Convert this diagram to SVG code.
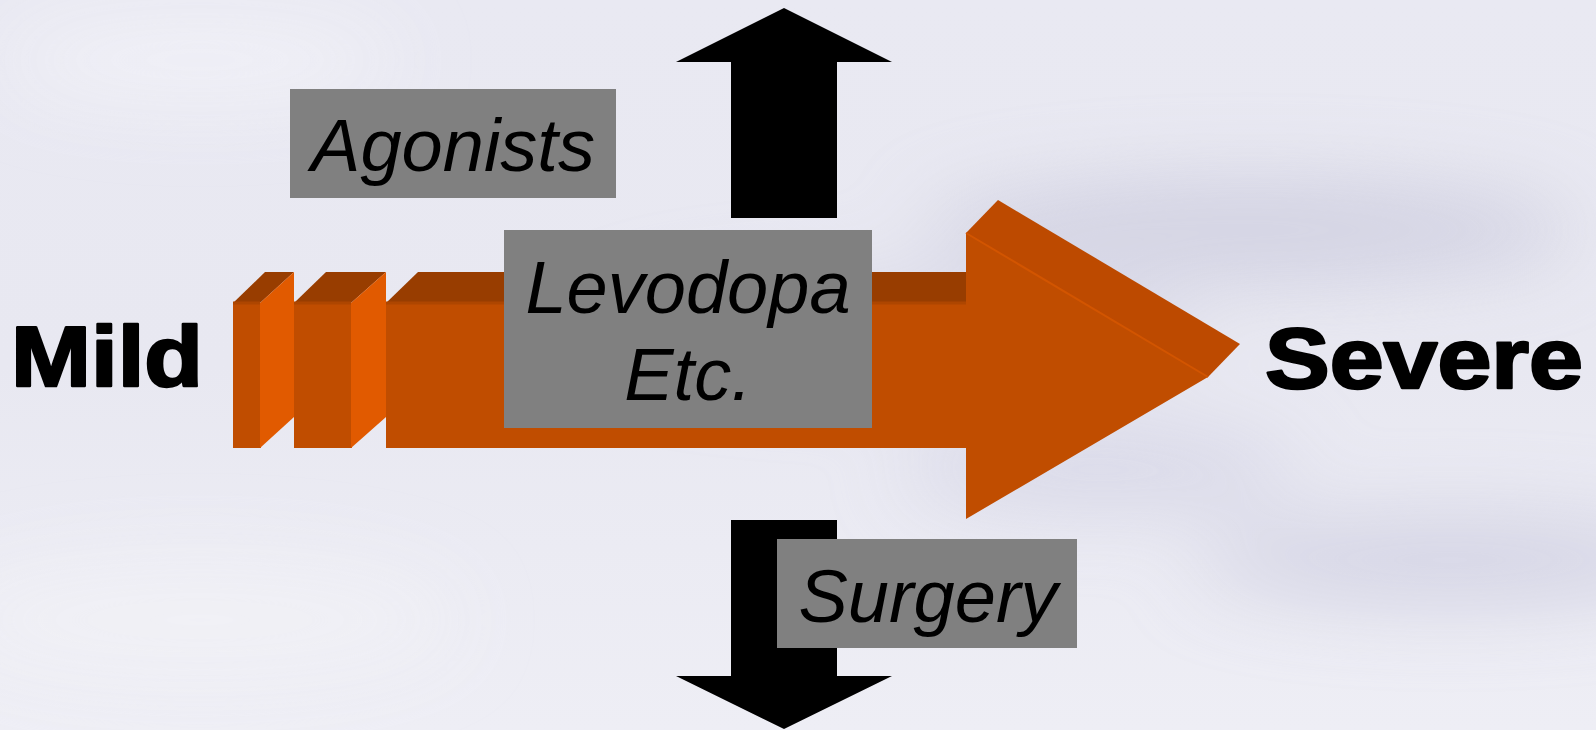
<svg xmlns="http://www.w3.org/2000/svg" width="1596" height="730" viewBox="0 0 1596 730">
<defs>
<linearGradient id="bg" x1="0" y1="0" x2="0" y2="1">
<stop offset="0" stop-color="#E9E9F2"/>
<stop offset="0.5" stop-color="#E8E8F1"/>
<stop offset="1" stop-color="#EEEEF5"/>
</linearGradient>
<filter id="blur" x="-50%" y="-50%" width="200%" height="200%"><feGaussianBlur stdDeviation="40"/></filter>
</defs>
<style>
.front{fill:#C04D00}
.top{fill:#983D00}
.side{fill:#E15A00}
.box{fill:#808080}
.lbl{font-family:"Liberation Sans",Arial,sans-serif;font-style:italic;font-size:74px;fill:#000;text-anchor:middle}
.big{font-family:"Liberation Sans",Arial,sans-serif;font-weight:bold;font-size:85px;fill:#000;stroke:#000;stroke-width:2.5;stroke-linejoin:round}
.blk{fill:#000}
</style>
<rect width="1596" height="730" fill="url(#bg)"/>
<g filter="url(#blur)" opacity="0.9">
<ellipse cx="1250" cy="230" rx="330" ry="50" fill="#CFCFE0"/>
<ellipse cx="1450" cy="560" rx="260" ry="45" fill="#D2D2E3"/>
<ellipse cx="1100" cy="470" rx="200" ry="40" fill="#D6D6E6"/>
<ellipse cx="900" cy="330" rx="300" ry="50" fill="#DADAE8"/>
<ellipse cx="200" cy="60" rx="200" ry="40" fill="#F2F2F8"/>
<ellipse cx="200" cy="620" rx="260" ry="60" fill="#F1F1F6"/>
</g>

<g id="orange-arrow">
<polygon class="top" points="386,303 418,272 966,272 966,303"/>
<polygon class="front" points="386,303 966,303 966,233 1208,377 966,519 966,448 386,448"/>
<polygon class="front" points="966,233 998,200 1240,344 1208,377" style="fill:#BD4A00"/>
<line x1="966" y1="233" x2="1208" y2="377" stroke="#D25500" stroke-width="2"/>
<line x1="386" y1="303" x2="966" y2="303" stroke="#AE4600" stroke-width="3"/>
<polygon class="top" points="233,303 265,272 294,272 260,303"/>
<rect class="front" x="233" y="303" width="28" height="145"/>
<polygon class="side" points="260,303 294,272 294,417 260,448"/>
<line x1="233" y1="303" x2="260" y2="303" stroke="#AE4600" stroke-width="3"/>
<polygon class="top" points="294,303 326,272 386,272 351,303"/>
<rect class="front" x="294" y="303" width="58" height="145"/>
<polygon class="side" points="351,303 386,272 386,417 351,448"/>
<line x1="294" y1="303" x2="351" y2="303" stroke="#AE4600" stroke-width="3"/>
</g>

<g id="up-arrow">
<polygon class="blk" points="784,8 892,62 837,62 837,218 731,218 731,62 676,62"/>
</g>
<g id="down-arrow">
<polygon class="blk" points="731,520 837,520 837,676 892,676 784,729 676,676 731,676"/>
</g>

<g id="agonists">
<rect class="box" x="290" y="89" width="326" height="109"/>
<text class="lbl" x="453" y="171">Agonists</text>
</g>
<g id="levodopa">
<rect class="box" x="504" y="230" width="368" height="198"/>
<text class="lbl" x="688" y="313">Levodopa</text>
<text class="lbl" x="688" y="400">Etc.</text>
</g>
<g id="surgery">
<rect class="box" x="777" y="539" width="300" height="109"/>
<text class="lbl" x="928" y="622">Surgery</text>
</g>
<g id="mild">
<text class="big" x="11" y="386" textLength="192" lengthAdjust="spacingAndGlyphs">Mild</text>
</g>
<g id="severe">
<text class="big" x="1265" y="388" textLength="318" lengthAdjust="spacingAndGlyphs">Severe</text>
</g>
</svg>
